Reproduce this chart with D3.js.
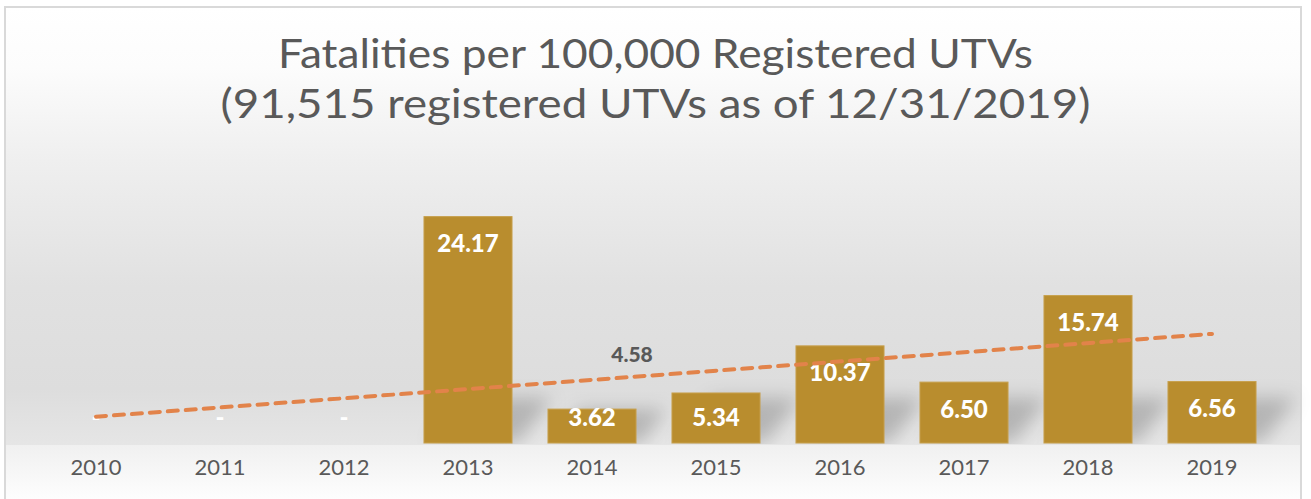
<!DOCTYPE html>
<html>
<head>
<meta charset="utf-8">
<script src="https://cdn.jsdelivr.net/npm/d3@7"></script>
<style>
	html, body { margin: 0; padding: 0; background: #fff; }
	svg { display: block; }
</style>
</head>
<body>
<svg id="chart"></svg>
<script>
let years = ['2010', '2011', '2012', '2013', '2014', '2015', '2016', '2017', '2018', '2019']
let rates = [0, 0, 0, 24.17, 3.62, 5.34, 10.37, 6.50, 15.74, 6.56]
let titleLines = ['Fatalities per 100,000 Registered UTVs', '(91,515 registered UTVs as of 12/31/2019)']
// stray label that sits above the trend line in the original
let noteText = '4.58'
let noteYear = '2014'
let noteValue = 9.4

let W = 1311
let H = 499
let margin = ({ top: 162, right: 37, bottom: 56, left: 34 })
let base = H - margin.bottom
let font = '"Century Gothic", Lato, "Open Sans", sans-serif'
let barColor = '#b98d2e'
let textColor = '#595959'

let svg = d3.select('#chart')
	.attr('width', W)
	.attr('height', H)
	.attr('viewBox', `0 0 ${W} ${H}`)

let defs = svg.append('defs')

// background fade: white top, grey middle, lighter floor
let bg = defs.append('linearGradient')
	.attr('id', 'bg')
	.attr('x1', 0).attr('x2', 0).attr('y1', 0).attr('y2', 1)
let bgStops = [[0, '#ffffff'], [0.12, '#fcfcfc'], [0.3, '#efefef'], [0.55, '#e1e1e1'], [0.75, '#dddddd'], [0.88, '#e7e7e7'], [1, '#ffffff']]
bgStops.forEach(s => bg.append('stop').attr('offset', s[0]).attr('stop-color', s[1]))

let floor = defs.append('linearGradient')
	.attr('id', 'floor')
	.attr('x1', 0).attr('x2', 0).attr('y1', 0).attr('y2', 1)
floor.append('stop').attr('offset', 0).attr('stop-color', '#f0f0f0')
floor.append('stop').attr('offset', 1).attr('stop-color', '#fefefe')

defs.append('filter')
	.attr('id', 'blur')
	.attr('x', '-50%').attr('y', '-50%').attr('width', '200%').attr('height', '200%')
	.append('feGaussianBlur')
	.attr('stdDeviation', 9)

defs.append('clipPath')
	.attr('id', 'aboveBase')
	.append('rect')
	.attr('x', 0).attr('y', 0).attr('width', W).attr('height', base + 1)

svg.append('rect')
	.attr('x', 0).attr('y', 0)
	.attr('width', W).attr('height', H)
	.attr('fill', '#fff')

svg.append('rect')
	.attr('x', 5).attr('y', 7)
	.attr('width', 1296).attr('height', H + 10)
	.attr('fill', 'url(#bg)')
	.attr('stroke', '#d9d9d9')
	.attr('stroke-width', 2)

svg.append('rect')
	.attr('x', 6).attr('y', base + 2)
	.attr('width', 1294).attr('height', H - base)
	.attr('fill', 'url(#floor)')

// scales
let x = d3.scaleBand()
	.domain(years)
	.range([margin.left, W - margin.right])
	.paddingInner(0.29)
	.paddingOuter(0.145)

let y = d3.scaleLinear()
	.domain([0, 30])
	.range([base, margin.top])

let data = years.map((yr, i) => ({ year: yr, value: rates[i] }))

// title
svg.append('g')
	.selectAll('text')
	.data(titleLines)
	.join('text')
	.attr('x', W / 2)
	.attr('y', (d, i) => 68 + i * 50)
	.attr('text-anchor', 'middle')
	.attr('fill', textColor)
	.style('font-family', font)
	.style('font-size', '40px')
	.attr('textLength', (d, i) => i == 0 ? 755 : 870)
	.attr('lengthAdjust', 'spacingAndGlyphs')
	.text(d => d)

// soft shadows cast to the right of each bar
svg.append('g')
	.attr('clip-path', 'url(#aboveBase)')
	.selectAll('path')
	.data(data.filter(d => d.value > 0))
	.join('path')
	.attr('filter', 'url(#blur)')
	.attr('fill', '#000')
	.attr('fill-opacity', 0.2)
	.attr('d', d => {
		let x0 = x(d.year)
		let x1 = x0 + x.bandwidth()
		let hs = Math.min(base - y(d.value), 45)
		let dx = hs * 0.9
		return `M${x0 + 6},${base} L${x1 + 6},${base} L${x1 + dx},${base - hs} L${x0 + dx},${base - hs} Z`
	})

// bars
svg.append('g')
	.selectAll('rect')
	.data(data.filter(d => d.value > 0))
	.join('rect')
	.attr('x', d => x(d.year))
	.attr('y', d => y(d.value))
	.attr('width', x.bandwidth())
	.attr('height', d => base - y(d.value))
	.attr('fill', barColor)
	.attr('stroke', '#c7a04c')
	.attr('stroke-width', 1)

// value labels
svg.append('g')
	.style('font-family', font)
	.style('font-weight', 'bold')
	.selectAll('text')
	.data(data)
	.join('text')
	.attr('x', d => x(d.year) + x.bandwidth() / 2)
	.attr('y', d => Math.min(y(d.value) + 27, base - 25))
	.attr('dy', '0.35em')
	.attr('text-anchor', 'middle')
	.attr('fill', '#fff')
	.style('font-size', '24px')
	.style('font-weight', 900)
	.text(d => d.value > 0 ? d.value.toFixed(2) : '-')

// linear trend line through all years
let xs = d3.range(years.length)
let mx = d3.mean(xs)
let my = d3.mean(rates)
let slope = d3.sum(xs, i => (i - mx) * (rates[i] - my)) / d3.sum(xs, i => (i - mx) * (i - mx))
let icpt = my - slope * mx
let cx = i => x(years[i]) + x.bandwidth() / 2

svg.append('line')
	.attr('x1', cx(0))
	.attr('y1', y(icpt))
	.attr('x2', cx(years.length - 1))
	.attr('y2', y(icpt + slope * (years.length - 1)))
	.attr('stroke', '#e2834a')
	.attr('stroke-width', 4)
	.attr('stroke-linecap', 'round')
	.attr('stroke-dasharray', '10,8')

svg.append('text')
	.attr('x', x(noteYear) + x.bandwidth() / 2 + 40)
	.attr('y', y(noteValue))
	.attr('dy', '0.35em')
	.attr('text-anchor', 'middle')
	.attr('fill', textColor)
	.style('font-family', font)
	.style('font-weight', 900)
	.style('font-size', '21px')
	.text(noteText)

// x axis, labels only
let xAxis = svg.append('g')
	.attr('transform', `translate(0,${base})`)
	.call(d3.axisBottom(x).tickSize(0).tickPadding(16))
xAxis.select('.domain').remove()
xAxis.selectAll('text')
	.attr('fill', textColor)
	.style('font-family', font)
	.style('font-size', '22px')
</script>
</body>
</html>
